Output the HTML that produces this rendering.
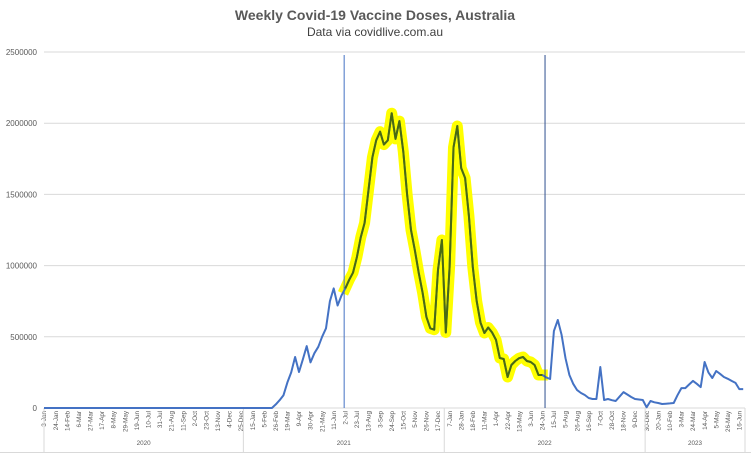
<!DOCTYPE html>
<html><head><meta charset="utf-8"><style>
body{margin:0;background:#fff;}
svg{display:block;font-family:"Liberation Sans",sans-serif;}
</style></head><body>
<svg id="chart" width="751" height="454" viewBox="0 0 751 454">
<rect x="0" y="0" width="751" height="454" fill="#fff"/>
<text x="375" y="20" text-anchor="middle" font-size="14" font-weight="bold" fill="#595959">Weekly Covid-19 Vaccine Doses, Australia</text>
<text x="375" y="36" text-anchor="middle" font-size="12" fill="#404040">Data via covidlive.com.au</text>
<g id="grid"></g><g id="xaxis"></g><g id="series"></g>
</svg>
<script>
const yTicks = [0, 500000, 1000000, 1500000, 2000000, 2500000];
const years = ["2020", "2021", "2022", "2023"];
const yearStartWeek = [0, 52, 104, 156];
const startDate = "2020-01-03";
const markerWeeks = [77.7, 129.7];
const highlightRange = [78, 129];
// weekly doses (thousands)
const doses = [
0,0,0,0,0,0,0,0,0,0, 0,0,0,0,0,0,0,0,0,0,
0,0,0,0,0,0,0,0,0,0, 0,0,0,0,0,0,0,0,0,0,
0,0,0,0,0,0,0,0,0,0, 0,0,0,0,0,0,0,0,0,0,
25,55,90,180,250,358,253,340,435,320,
385,430,500,560,750,840,720,790,840,900,
950,1060,1200,1300,1530,1760,1880,1940,1850,1880,
2070,1890,2015,1800,1500,1250,1110,950,810,640,
560,550,970,1180,530,990,1830,1980,1685,1615,
1350,990,750,600,527,565,530,478,351,344,
218,302,330,350,358,330,323,302,232,232,
215,204,540,618,513,350,232,170,126,105,
91,70,63,63,288,56,63,55,49,80,
112,95,77,63,60,56,5,49,40,35,
28,30,32,35,90,140,140,165,190,170,
147,323,250,211,260,240,218,205,190,176,
133,133
];
const NS = "http://www.w3.org/2000/svg";
const X0 = 44, STEP = 3.863, Y0 = 408, YTOP = 52, X1 = 745;
const x = i => X0 + STEP * i;
const y = v => Y0 - (v / 2500000) * (Y0 - YTOP);
function mk(tag, attrs, parent) {
  const e = document.createElementNS(NS, tag);
  for (const k in attrs) e.setAttribute(k, attrs[k]);
  parent.appendChild(e);
  return e;
}
const grid = document.getElementById('grid');
yTicks.forEach(t => {
  const l = mk('line', {x1: X0, x2: X1, y1: y(t), y2: y(t), stroke: '#d9d9d9', 'stroke-width': 1}, grid);
  
  
  const tx = mk('text', {x: 37, y: y(t) + 3, 'text-anchor': 'end', 'font-size': 8, fill: '#595959'}, grid);
  tx.textContent = String(t);
  
  
});
const xa = document.getElementById('xaxis');
const months = ["Jan","Feb","Mar","Apr","May","Jun","Jul","Aug","Sep","Oct","Nov","Dec"];
const sd = new Date(startDate + "T00:00:00Z");
for (let i = 0; i <= 180; i += 3) {
  const d = new Date(sd.getTime() + i * 7 * 86400000);
  const lbl = d.getUTCDate() + "-" + months[d.getUTCMonth()];
  const tx = mk('text', {x: 0, y: 0, 'text-anchor': 'end', 'font-size': 6.3, fill: '#595959',
    transform: 'translate(' + (x(i) + 2.2) + ',411) rotate(-90)'}, xa);
  tx.textContent = lbl;
  
  
}
const sepX = [X0, x(yearStartWeek[1]) - 1.5, x(yearStartWeek[2]) - 1.5, x(yearStartWeek[3]) - 1.5, X1];
sepX.forEach(sx => {
  const l = mk('line', {x1: sx, x2: sx, y1: Y0, y2: 452, stroke: '#d9d9d9', 'stroke-width': 1}, xa);
  
  
});
years.forEach((yr, k) => {
  const tx = mk('text', {x: (sepX[k] + sepX[k + 1]) / 2, y: 445, 'text-anchor': 'middle', 'font-size': 6.3, fill: '#595959'}, xa);
  tx.textContent = yr;
  
  
});
const bl = mk('line', {x1: 0, x2: 751, y1: 452.5, y2: 452.5, stroke: '#d9d9d9', 'stroke-width': 1}, xa);


const ax = mk('line', {x1: X0, x2: X1, y1: Y0, y2: Y0, stroke: '#d9d9d9', 'stroke-width': 1}, xa);



const s = document.getElementById('series');
const pts = doses.map((v, i) => x(i).toFixed(1) + ',' + y(v * 1000).toFixed(1)).join(' ');
const hl = doses.slice(highlightRange[0], highlightRange[1] + 1)
  .map((v, j) => x(j + highlightRange[0]).toFixed(1) + ',' + y(v * 1000).toFixed(1)).join(' ');
const yb = mk('polyline', {points: hl, fill: 'none', stroke: '#ffff00', 'stroke-width': 11, 'stroke-linejoin': 'round', 'stroke-linecap': 'square'}, s);


const bln = mk('polyline', {points: pts, fill: 'none', stroke: '#4472c4', 'stroke-width': 2, 'stroke-linejoin': 'round'}, s);


const gl = mk('polyline', {points: hl, fill: 'none', stroke: '#4a6b10', 'stroke-width': 2, 'stroke-linejoin': 'round'}, s);


markerWeeks.forEach((w, k) => {
  const m = mk('line', {x1: x(w), x2: x(w), y1: 55, y2: Y0, stroke: k === 0 ? '#4472c4' : '#2f4f8f', 'stroke-width': 1}, s);
  
  
});
</script>
</body></html>
